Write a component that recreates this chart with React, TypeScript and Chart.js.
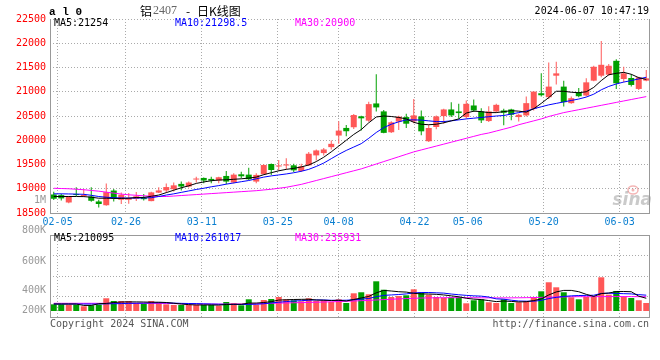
import React, { useEffect, useRef } from 'react';
import { Chart, registerables } from 'chart.js';

Chart.register(...registerables);

// ---------------- data ----------------
const dates = ['02-02','02-05','02-06','02-07','02-08','02-19','02-20','02-21','02-22','02-23','02-26','02-27','02-28','02-29','03-01','03-04','03-05','03-06','03-07','03-08','03-11','03-12','03-13','03-14','03-15','03-18','03-19','03-20','03-21','03-22','03-25','03-26','03-27','03-28','03-29','04-01','04-02','04-03','04-08','04-09','04-10','04-11','04-12','04-15','04-16','04-17','04-18','04-19','04-22','04-23','04-24','04-25','04-26','04-29','04-30','05-06','05-07','05-08','05-09','05-10','05-13','05-14','05-15','05-16','05-17','05-20','05-21','05-22','05-23','05-24','05-27','05-28','05-29','05-30','05-31','06-03','06-04','06-05','06-06','06-07'];

const opens = [18882,18869,18717,18880,18850,18840,18738,18660,18963,18773,18773,18790,18810,18745,18920,18965,18990,19100,19046,19190,19223,19203,19169,19264,19128,19298,19291,19148,19298,19510,19460,19480,19483,19367,19483,19688,19735,19858,20097,20254,20268,20493,20404,20759,20595,20165,20384,20478,20389,20491,19980,20273,20498,20635,20594,20478,20717,20594,20396,20594,20614,20635,20478,20512,20649,20969,20887,21331,21106,20765,20990,20922,21229,21331,21352,21638,21263,21283,21058,21229];
const highs = [18937,18897,18850,19030,18995,19033,18773,19110,18995,18922,18910,18935,18890,18940,19030,19110,19128,19148,19148,19250,19230,19250,19250,19366,19319,19353,19435,19319,19503,19523,19592,19630,19517,19517,19756,19810,19838,19995,20390,20315,20540,20506,20793,21359,20622,20390,20506,20546,20853,20614,20321,20512,20648,20785,20751,20819,20840,20662,20703,20751,20648,20648,20546,20901,21003,21379,21604,21618,21229,20901,21079,21276,21536,22047,21570,21672,21515,21365,21311,21447];
const lows = [18766,18760,18700,18850,18830,18730,18615,18650,18738,18685,18690,18745,18760,18740,18910,18920,18943,18964,19025,19128,19114,19114,19114,19094,19107,19216,19182,19114,19290,19285,19373,19400,19346,19346,19469,19585,19688,19810,19926,20083,20233,20199,20384,20595,20145,20152,20213,20253,20350,20103,19966,20225,20341,20478,20444,20444,20580,20355,20375,20566,20307,20410,20389,20492,20615,20901,20853,21147,20696,20751,20887,20901,21215,21297,21331,21058,21195,21106,21037,21215];
const closes = [18794,18801,18840,18870,18860,18752,18685,18930,18808,18875,18808,18845,18785,18925,18965,19035,19070,19046,19128,19196,19169,19169,19237,19148,19291,19257,19196,19285,19489,19387,19470,19490,19380,19462,19722,19790,19810,19926,20199,20186,20520,20452,20745,20677,20152,20370,20486,20341,20512,20184,20253,20491,20635,20512,20560,20751,20614,20410,20594,20730,20566,20526,20526,20765,21003,20928,21106,21379,20785,20867,20908,21194,21515,21556,21536,21174,21379,21140,21297,21276];

const ma5 = [18840,18840,18840,18840,18838,18826,18805,18805,18800,18800,18805,18820,18820,18845,18870,18920,18970,19020,19060,19110,19140,19165,19180,19185,19195,19205,19220,19240,19290,19330,19370,19400,19420,19450,19490,19560,19650,19760,19880,20000,20120,20220,20360,20480,20500,20490,20470,20440,20370,20330,20320,20330,20360,20400,20440,20560,20600,20590,20570,20570,20590,20610,20600,20580,20650,20760,20880,21010,21010,20990,20980,21000,21090,21230,21350,21380,21400,21360,21290,21254];
const ma10 = [18895,18895,18893,18890,18885,18865,18840,18825,18815,18810,18808,18808,18810,18815,18840,18870,18895,18925,18955,18985,19010,19040,19065,19095,19120,19145,19170,19205,19240,19265,19285,19305,19330,19360,19400,19460,19530,19620,19710,19790,19860,19930,20040,20160,20260,20330,20380,20420,20420,20415,20400,20385,20385,20400,20420,20440,20455,20470,20485,20500,20510,20540,20570,20600,20650,20690,20730,20760,20790,20820,20850,20890,20950,21040,21110,21160,21200,21230,21265,21298.5];
const ma30 = [19010,19005,19000,18990,18980,18965,18950,18930,18910,18890,18875,18865,18855,18845,18840,18840,18850,18860,18870,18880,18890,18900,18910,18920,18930,18940,18950,18960,18975,18990,19010,19030,19060,19090,19130,19170,19210,19250,19290,19330,19370,19410,19460,19510,19560,19610,19660,19710,19760,19800,19840,19880,19920,19960,20000,20040,20080,20120,20150,20190,20230,20270,20320,20360,20400,20440,20490,20530,20570,20600,20630,20660,20690,20720,20750,20780,20810,20840,20870,20900];

// volumes in thousands (K)
const VOL_UNIT = 1000;
const volumes = [110,110,104,104,78,94,104,210,165,165,165,132,120,165,144,110,99,99,99,99,99,99,87,149,127,94,193,104,182,198,231,193,177,160,210,165,177,149,193,132,292,309,276,490,351,231,248,259,358,309,269,231,219,226,231,127,177,193,144,132,193,132,144,165,226,325,474,391,309,226,193,231,231,556,269,330,231,215,177,132];
const volMa5 = [115,115,115,115,92,92,120,125,140,148,150,150,148,145,145,140,128,115,105,100,100,100,97,107,112,111,130,131,140,154,180,185,190,192,194,181,178,172,177,165,190,215,240,300,340,330,318,312,292,282,280,275,265,250,235,210,196,188,172,155,165,158,150,153,172,200,265,315,340,340,318,275,240,287,296,320,322,318,245,210.095];
const volMa10 = [115,115,115,115,115,115,115,118,120,122,126,128,130,133,135,135,130,126,124,122,118,115,112,110,108,107,110,112,120,133,145,155,165,170,178,183,182,177,176,178,185,196,206,235,258,265,272,282,298,305,305,300,295,280,268,258,250,245,230,200,195,178,165,162,162,175,205,225,240,250,255,258,260,290,294,290,286,282,270,261.017];
const volMa30 = [127,127,127,127,127,127,127,127,127,127,127,127,127,127,127,125,122,120,118,116,115,114,113,113,114,115,117,120,123,126,130,133,136,139,142,145,148,152,156,160,165,170,175,182,188,194,200,205,210,214,216,218,219,220,220,220,219,218,217,216,216,217,218,220,222,225,228,231,233,235,236,236,237,237,238,238,238,237,236,235.931];

const dateTicks = ['02-05','02-26','03-11','03-25','04-08','04-22','05-06','05-20','06-03'];
const priceMin = 18500;
const priceMax = 22500;
const priceStep = 500;
const volMin = -99;
const volMax = 1254;
const volTickLabels = ['800K','600K','400K','200K'];
const symbolText = 'a l 0';
const titleName = '铝';
const titleCode = '2407';
const titleDash = '-';
const titleKind = '日K线图';
const timestamp = '2024-06-07 10:47:19';
const copyrightText = 'Copyright 2024 SINA.COM';
const urlText = 'http://finance.sina.com.cn';
const intervalText = '1M';

// ---------------- styles ----------------
const RED = '#ff5757';
const GREEN = '#00a000';
const GRID = '#aaaaaa';
const BORDER = '#999999';
const MONO = "'DejaVu Sans Mono', monospace";
const C_MA5 = '#000000';
const C_MA10 = '#0000ff';
const C_MA30 = '#ff00ff';

const candleColors = closes.map((c, i) => (c >= opens[i] ? RED : GREEN));
const tickIdx = dateTicks.map((d) => dates.indexOf(d));

function txt(ctx: CanvasRenderingContext2D, s: string, x: number, y: number, color: string, font: string, align: CanvasTextAlign = 'left') {
  ctx.fillStyle = color;
  ctx.font = font;
  ctx.textAlign = align;
  ctx.textBaseline = 'middle';
  ctx.fillText(s, x, y);
}

function drawFrame(ctx: CanvasRenderingContext2D, a: any, top: boolean) {
  ctx.save();
  ctx.setLineDash([]);
  ctx.strokeStyle = BORDER;
  ctx.lineWidth = 1;
  ctx.beginPath();
  ctx.moveTo(a.left + 0.5, a.top);
  ctx.lineTo(a.left + 0.5, a.bottom + 1);
  ctx.moveTo(a.right - 0.5, a.top);
  ctx.lineTo(a.right - 0.5, a.bottom + 1);
  ctx.moveTo(a.left, a.bottom + 0.5);
  ctx.lineTo(a.right, a.bottom + 0.5);
  if (top) {
    ctx.moveTo(a.left, a.top + 0.5);
    ctx.lineTo(a.right, a.top + 0.5);
  }
  ctx.stroke();
  ctx.restore();
}

const mainDeco = {
  id: 'mainDeco',
  afterDraw(chart: any) {
    const ctx: CanvasRenderingContext2D = chart.ctx;
    const a = chart.chartArea;
    drawFrame(ctx, a, false);
    ctx.save();
    // header row
    txt(ctx, symbolText, 49, 12, '#000', "bold 11px 'Liberation Mono', monospace");
    let x = 140;
    ctx.font = "12px 'Noto Sans CJK SC'";
    txt(ctx, titleName, x, 11, '#000', "12px 'Noto Sans CJK SC'");
    x += ctx.measureText(titleName).width + 1;
    txt(ctx, titleCode, x, 11, '#666', "12px 'Liberation Serif', serif");
    txt(ctx, titleDash, 186, 11, '#000', "12px 'Noto Sans CJK SC'");
    txt(ctx, titleKind, 197, 11, '#000', "12px 'Noto Sans CJK SC'");
    txt(ctx, timestamp, 649, 11, '#000', `10px ${MONO}`, 'right');
    // MA legend
    const n = closes.length - 1;
    txt(ctx, 'MA5:' + ma5[n], a.left + 4, a.top + 4.5, C_MA5, `10px ${MONO}`);
    txt(ctx, 'MA10:' + ma10[n], a.left + 125, a.top + 4.5, C_MA10, `10px ${MONO}`);
    txt(ctx, 'MA30:' + ma30[n], a.left + 245, a.top + 4.5, C_MA30, `10px ${MONO}`);
    // interval label
    txt(ctx, intervalText, a.left - 4, a.bottom - 13, '#999', `10px ${MONO}`, 'right');
    // sina watermark
    ctx.strokeStyle = 'rgba(235,120,120,0.55)';
    ctx.lineWidth = 1.5;
    ctx.beginPath();
    ctx.ellipse(a.right - 17, a.bottom - 23, 5, 4, 0, 0, Math.PI * 2);
    ctx.stroke();
    ctx.fillStyle = 'rgba(235,120,120,0.55)';
    ctx.beginPath();
    ctx.arc(a.right - 17, a.bottom - 23, 1.5, 0, Math.PI * 2);
    ctx.fill();
    ctx.font = "italic bold 17px 'DejaVu Sans', sans-serif";
    ctx.fillStyle = 'rgba(150,150,150,0.5)';
    ctx.textAlign = 'right';
    ctx.textBaseline = 'alphabetic';
    ctx.fillText('sina', a.right + 2, a.bottom - 8);
    ctx.restore();
  },
};

const volDeco = {
  id: 'volDeco',
  afterDraw(chart: any) {
    const ctx: CanvasRenderingContext2D = chart.ctx;
    const a = chart.chartArea;
    drawFrame(ctx, a, true);
    ctx.save();
    const offs = [-4.3, 26, 55, 75];
    volTickLabels.forEach((s, i) => txt(ctx, s, a.left - 4, a.top + offs[i], '#999', `10px ${MONO}`, 'right'));
    const n = volumes.length - 1;
    txt(ctx, 'MA5:' + Math.round(volMa5[n] * VOL_UNIT), a.left + 4, a.top + 3.5, C_MA5, `10px ${MONO}`);
    txt(ctx, 'MA10:' + Math.round(volMa10[n] * VOL_UNIT), a.left + 125, a.top + 3.5, C_MA10, `10px ${MONO}`);
    txt(ctx, 'MA30:' + Math.round(volMa30[n] * VOL_UNIT), a.left + 245, a.top + 3.5, C_MA30, `10px ${MONO}`);
    txt(ctx, copyrightText, a.left, a.bottom + 7, '#555', `10px ${MONO}`);
    txt(ctx, urlText, a.right - 1, a.bottom + 7, '#555', `10px ${MONO}`, 'right');
    ctx.restore();
  },
};

function lineDs(label: string, data: number[], color: string) {
  return {
    type: 'line' as const,
    label,
    data,
    borderColor: color,
    borderWidth: 1,
    pointRadius: 0,
    tension: 0,
    fill: false,
    order: 0,
  };
}

function gridX(height: number, showLabels: boolean) {
  return {
    type: 'linear' as const,
    position: 'bottom' as const,
    min: 0,
    max: dates.length - 1,
    offset: false,
    bounds: 'ticks' as const,
    afterBuildTicks: (s: any) => {
      s.ticks = tickIdx.map((v) => ({ value: v }));
    },
    afterDataLimits: (s: any) => {
      s.min = 0;
      s.max = dates.length - 1;
    },
    afterFit: (s: any) => {
      s.height = height;
      s.paddingLeft = 0;
      s.paddingRight = 0;
    },
    grid: { color: GRID, drawTicks: false, lineWidth: 1, offset: false },
    border: { display: false, dash: [1, 2] },
    ticks: {
      display: showLabels,
      color: '#0a7fd0',
      font: { family: MONO, size: 10 },
      padding: 3,
      autoSkip: false,
      maxRotation: 0,
      callback: (v: any) => dates[v as number],
    },
  };
}

export default function App() {
  const mainRef = useRef<HTMLCanvasElement>(null);
  const volRef = useRef<HTMLCanvasElement>(null);

  useEffect(() => {
    const main = new Chart(mainRef.current as HTMLCanvasElement, {
      type: 'bar',
      data: {
        labels: dates,
        datasets: [
          lineDs('MA5', ma5, C_MA5),
          lineDs('MA10', ma10, C_MA10),
          lineDs('MA30', ma30, C_MA30),
          {
            type: 'bar',
            label: 'wick',
            data: lows.map((l, i) => [l, highs[i]]),
            backgroundColor: candleColors,
            barThickness: 1,
            grouped: false,
            inflateAmount: 0,
            order: 2,
          } as any,
          {
            type: 'bar',
            label: 'body',
            data: opens.map((o, i) => [o, closes[i]]),
            backgroundColor: candleColors,
            barThickness: 6,
            grouped: false,
            minBarLength: 1,
            inflateAmount: 0,
            order: 1,
          } as any,
        ],
      },
      options: {
        responsive: false,
        animation: false,
        events: [],
        layout: { padding: { top: 19, right: 10, left: 0, bottom: 0 } },
        plugins: { legend: { display: false }, tooltip: { enabled: false } },
        scales: {
          x: { type: 'category', display: false, offset: true },
          x2: gridX(15, true) as any,
          y: {
            type: 'linear',
            min: priceMin,
            max: priceMax,
            afterFit: (s: any) => {
              s.width = 50;
            },
            grid: { color: GRID, drawTicks: false, lineWidth: 1 },
            border: { display: false, dash: [1, 2] },
            ticks: {
              stepSize: priceStep,
              color: '#ff0000',
              font: { family: MONO, size: 10 },
              padding: 4,
              callback: (v: any) => String(v),
            },
          },
        },
      },
      plugins: [mainDeco],
    });

    const vol = new Chart(volRef.current as HTMLCanvasElement, {
      type: 'bar',
      data: {
        labels: dates,
        datasets: [
          lineDs('VMA5', volMa5.map((v) => v * VOL_UNIT), C_MA5),
          lineDs('VMA10', volMa10.map((v) => v * VOL_UNIT), C_MA10),
          lineDs('VMA30', volMa30.map((v) => v * VOL_UNIT), C_MA30),
          {
            type: 'bar',
            label: 'volume',
            data: volumes.map((v) => v * VOL_UNIT),
            backgroundColor: candleColors,
            barThickness: 6,
            inflateAmount: 0,
            order: 1,
          } as any,
        ],
      },
      options: {
        responsive: false,
        animation: false,
        events: [],
        layout: { padding: { top: 15, right: 10, left: 0, bottom: 0 } },
        plugins: { legend: { display: false }, tooltip: { enabled: false } },
        scales: {
          x: { type: 'category', display: false, offset: true },
          x2: gridX(43, false) as any,
          y: {
            type: 'linear',
            min: volMin * VOL_UNIT,
            max: volMax * VOL_UNIT,
            afterBuildTicks: (s: any) => {
              const lo = volMin * VOL_UNIT;
              const hi = volMax * VOL_UNIT;
              s.ticks = [0, 1, 2, 3, 4].map((k) => ({ value: lo + ((hi - lo) * k) / 4 }));
            },
            afterFit: (s: any) => {
              s.width = 50;
            },
            grid: { color: GRID, drawTicks: false, lineWidth: 1 },
            border: { display: false, dash: [1, 2] },
            ticks: { display: false },
          },
        },
      },
      plugins: [volDeco],
    });

    return () => {
      main.destroy();
      vol.destroy();
    };
  }, []);

  return (
    <div style={{ position: 'absolute', left: 0, top: 0, width: 660, height: 360, background: '#fff' }}>
      <canvas ref={mainRef} width={660} height={228} style={{ position: 'absolute', left: 0, top: 0, width: 660, height: 228 }} />
      <canvas ref={volRef} width={660} height={140} style={{ position: 'absolute', left: 0, top: 220, width: 660, height: 140 }} />
    </div>
  );
}
